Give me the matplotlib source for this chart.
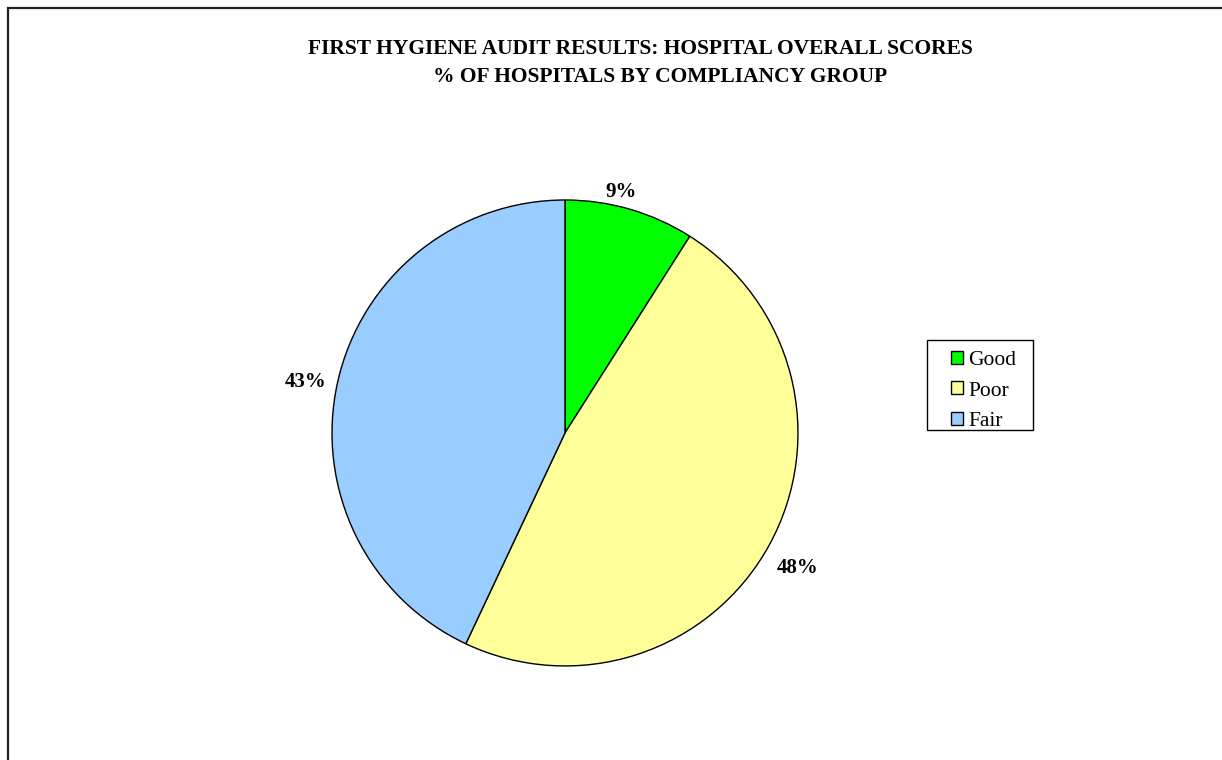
import matplotlib
matplotlib.use("Agg")
import numpy as np
import matplotlib.pyplot as plt
from matplotlib.patches import Rectangle

categories = ["Good", "Poor", "Fair"]
shares = [9, 48, 43]
colors = ["#00FF00", "#FFFF99", "#99CCFF"]
label_dist = [1.11, 1.14, 1.14]
label_ha = ["right", "center", "center"]
title_1 = "FIRST HYGIENE AUDIT RESULTS: HOSPITAL OVERALL SCORES"
title_2 = "% OF HOSPITALS BY COMPLIANCY GROUP"

plt.rcParams['font.family'] = ['Liberation Serif', 'DejaVu Serif']

fig = plt.figure(figsize=(12.22, 7.6), dpi=100)

# outer chart border (runs off the right/bottom edge like the original)
fig.patches.append(Rectangle((8 / 1222, -0.2), 1.2, 1.2 - 8 / 760,
                             transform=fig.transFigure, fill=False,
                             edgecolor="#222222", linewidth=1.6))

ax = fig.add_axes([0.2717, 0.1237, 0.3813, 0.6132])
wedges, texts, pcts = ax.pie(
    shares, colors=colors, startangle=90, counterclock=False,
    autopct="%1.0f%%", pctdistance=1.13,
    wedgeprops=dict(edgecolor="black", linewidth=1.0),
    textprops=dict(fontsize=15, fontweight="bold"),
)
# put each percentage label a little off the rim, like the excel chart
for w, t, d, ha in zip(wedges, pcts, label_dist, label_ha):
    mid = np.deg2rad((w.theta1 + w.theta2) / 2)
    t.set_position((d * np.cos(mid), d * np.sin(mid) - 0.03))
    t.set_ha(ha)
ax.set_xlim(-1, 1)
ax.set_ylim(-1, 1)
ax.set_aspect("equal")

fig.text(0.5237, 0.935, title_1, ha="center", va="center",
         fontsize=15.5, fontweight="bold")
fig.text(0.540, 0.899, title_2, ha="center", va="center",
         fontsize=15.5, fontweight="bold")

# legend box drawn separately so the padding can be uneven like the original
fig.patches.append(Rectangle((927 / 1222, 1 - 430 / 760), 106 / 1222, 90 / 760,
                             transform=fig.transFigure, facecolor="white",
                             edgecolor="black", linewidth=1.0, zorder=4))
leg = fig.legend(wedges, categories, loc="upper left",
                 bbox_to_anchor=(951 / 1222, 1 - 351 / 760), bbox_transform=fig.transFigure,
                 borderaxespad=0, borderpad=0, fontsize=15.5, frameon=False,
                 handlelength=0.56, handleheight=0.56, handletextpad=0.25,
                 labelspacing=0.52)
leg.set_zorder(5)

fig.savefig("out.png", dpi=100)
